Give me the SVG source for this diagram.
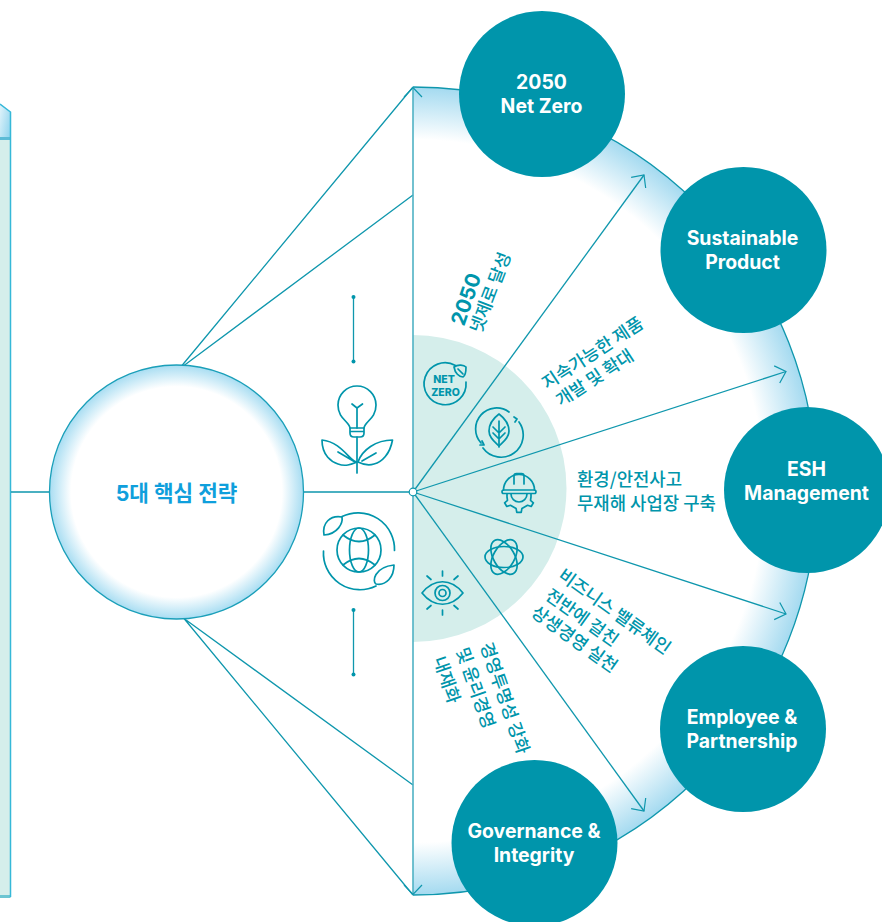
<svg xmlns="http://www.w3.org/2000/svg" width="882" height="922" viewBox="0 0 882 922">
<style>
.c{stroke:#0F97AD;stroke-width:1.3;fill:none}
.i{stroke:#0095AB;stroke-width:1.7;fill:none;stroke-linecap:round;stroke-linejoin:round}
.n{fill:#0095AB}
.t{font-family:Inter,"Noto Sans CJK KR",sans-serif;font-weight:700;font-size:19.400px;fill:#fff;text-anchor:middle}
.k{font-family:"Noto Sans CJK KR",sans-serif;font-weight:500;font-size:17.500px;fill:#0095AB}
</style>
<defs>
<radialGradient id="g1" gradientUnits="userSpaceOnUse" cx="413" cy="491" r="404"><stop offset="0.87" stop-color="#fff"/><stop offset="1" stop-color="#A4DAF0"/></radialGradient>
<radialGradient id="g2" gradientUnits="userSpaceOnUse" cx="176.500" cy="492" r="127"><stop offset="0.83" stop-color="#fff"/><stop offset="1" stop-color="#A8DDF2"/></radialGradient>
<linearGradient id="g3" x1="0" y1="0.300" x2="1" y2="0.900"><stop offset="0" stop-color="#D8F0F9"/><stop offset="1" stop-color="#8FD4EE"/></linearGradient>
<marker id="a" markerUnits="userSpaceOnUse" markerWidth="24" markerHeight="24" refX="12" refY="12" orient="auto" overflow="visible"><path d="M2.500,3 L12,12 L2.500,21" fill="none" stroke="#0F97AD" stroke-width="1.200"/></marker>
</defs>
<rect width="882" height="922" fill="#fff"/>
<g id="panel">
<rect x="0" y="139" width="10.500" height="758" fill="#D5EEEB"/>
<path d="M0,104 L10.500,112 V138 H0 Z" fill="url(#g3)"/>
<rect x="0" y="137" width="10.500" height="3" fill="#5CBBD6"/>
<rect x="0" y="895" width="10.500" height="3" fill="#6CC5D2"/>
<path d="M0,104 L10.500,112 V897" fill="none" stroke="#35B8D8" stroke-width="1.500"/>
</g>
<g id="fan">
<path d="M413,87 A404,404 0 0 1 413,895 Z" fill="url(#g1)"/>
<path d="M413,87 A404,404 0 0 1 413,895" fill="none" stroke="#0F97AD" stroke-width="1.300"/>
<path d="M413,335 A153.500,153.500 0 0 1 413,642 Z" fill="#D5EEEB"/>
</g>
<g id="connectors">
<path class="c" d="M11,492 H50 M303,492 H413"/>
<path class="c" d="M182,365.500 L413,87 M184,365.500 L413,195 M184,618.500 L413,895 M184,618.500 L413,785"/>
<path d="M413,492 V87.500" fill="none" stroke="#4FB2C4" stroke-width="1.600" marker-end="url(#a)"/>
<path d="M413,492 V894.500" fill="none" stroke="#4FB2C4" stroke-width="1.600" marker-end="url(#a)"/>
<path class="c" marker-end="url(#a)" d="M413,492 L644,175"/>
<path class="c" marker-end="url(#a)" d="M413,492 L786,371.500"/>
<path class="c" marker-end="url(#a)" d="M413,492 L786,614"/>
<path class="c" marker-end="url(#a)" d="M413,492 L644,811"/>
<circle cx="413" cy="492" r="3.800" fill="#fff" stroke="#0F97AD" stroke-width="1.200"/>
<path class="c" d="M353.500,297 V361.500 M353.500,610 V674.500"/>
<circle class="n" cx="353.500" cy="297" r="2"/><circle class="n" cx="353.500" cy="361.500" r="2"/>
<circle class="n" cx="353.500" cy="610" r="2"/><circle class="n" cx="353.500" cy="674.500" r="2"/>
</g>
<g id="hub">
<circle cx="176.500" cy="492" r="127" fill="url(#g2)" stroke="#1A9FB9" stroke-width="1.300"/>
<text x="176.500" y="501" font-family="Inter,'Noto Sans CJK KR',sans-serif" font-weight="700" font-size="21.300" fill="#0F9FDC" text-anchor="middle">5대 핵심 전략</text>
</g>
<g id="icon-plant" class="i">
<path d="M350,428 C349,421 338,419 338,405 A19,19 0 1 1 376,405 C376,419 365,421 364,428"/>
<path d="M350,428 H364 V433 Q364,437 360,437 H354 Q350,437 350,433 Z M350,431.500 H364"/>
<path d="M357,428 V408 M352,404 L357,408 L362.500,404 M357,437 V473"/>
<path d="M357,462 C350,462 342,442 322,440 C322,456 332,462 338,464 C346,467 352,464 357,462 Z M338,452 L355,462"/>
<path d="M358,462 C362,450 376,440 392.500,440 C390,454 382,462 374,464 C368,466 362,464 358,462 Z M362,461 L376,453"/>
</g>
<g id="icon-globe" class="i">
<circle cx="359" cy="550" r="22"/>
<ellipse cx="359" cy="550" rx="9.500" ry="22"/>
<path d="M343,535 Q359,548 375,535 M343,565 Q359,552 375,565"/>
<path d="M342,516.500 A36.500,36.500 0 0 1 394.500,550.500 M323.500,551 A36.500,36.500 0 0 0 376,586"/>
<path d="M324,535 C322,523 330,515 342,517 C343,523 338,534 324,535 Z"/>
<path d="M394,565 C394,577 386,586 376,584 C372,582 374,567 394,565 Z"/>
</g>
<g id="icon-netzero" class="i">
<path d="M455.500,365.500 A21,21 0 1 0 466,382"/>
<path d="M454,367 C458,364 464,365 466,367 C466,373 465,376 463,377 C459,377 455,373 454,367 Z M458,369 L463,374"/>
<text x="444" y="383" font-family="Inter,sans-serif" font-weight="800" font-size="10.500" fill="#0095AB" stroke="none" text-anchor="middle">NET</text>
<text x="445.500" y="395.500" font-family="Inter,sans-serif" font-weight="800" font-size="10.500" fill="#0095AB" stroke="none" text-anchor="middle">ZERO</text>
</g>
<g id="icon-leaf" class="i">
<path d="M509,412 A21,21 0 0 0 481,443 M483,448 A21,21 0 0 0 519,422"/>
<path d="M514,417 L517,419 L515,422 M482,441 L484,445 L480,445"/>
<path d="M499,414 C491,420 489,426 489,431 C489,438 495,442 499,446 C503,442 509,438 509,431 C509,426 507,420 499,414 Z"/>
<path d="M499,421 V447 M493,427 L499,433 L505,427 M493,433 L499,439 L505,433"/>
</g>
<g id="icon-helmet" class="i">
<path d="M503.500,490 A15.500,15.500 0 0 1 534.500,490"/>
<path d="M514,484 V476 Q514,473.500 516.500,473.500 H521.500 Q524,473.500 524,476 V484"/>
<rect x="502" y="490" width="34" height="3.500" rx="1.700"/>
<path d="M531,494 V497 L530.500,500.300 L533.400,502.800 L531.200,506.500 L527.600,505.300 L521.900,508.600 L521.200,512.300 H516.800 L516.100,508.600 L510.400,505.300 L506.800,506.500 L504.600,502.800 L507.500,500.300 L507,497 V494"/>
<path d="M511,494 A8,8 0 0 0 527,494"/>
</g>
<g id="icon-atom" class="i">
<ellipse cx="504" cy="557" rx="19" ry="10.500"/>
<ellipse cx="504" cy="557" rx="19" ry="10.500" transform="rotate(60 504 557)"/>
<ellipse cx="504" cy="557" rx="19" ry="10.500" transform="rotate(120 504 557)"/>
</g>
<g id="icon-eye" class="i">
<path d="M422,593 C434,578 451,578 463,593 C451,608 434,608 422,593 Z"/>
<circle cx="442.500" cy="593" r="7.500"/><circle cx="442.500" cy="593" r="3.500"/>
<path d="M442.500,571 V576 M442.500,610 V615 M427,576 L431,579.500 M458,576 L454,579.500 M427,609 L431,605.500 M458,609 L454,605.500"/>
</g>
<g id="labels">
<text class="k" transform="translate(464,327) rotate(-71)" style="font-size:20.500px;font-family:Inter,sans-serif;font-weight:700">2050</text>
<text class="k" transform="translate(481,334) rotate(-69)">넷제로 달성</text>
<text class="k" transform="translate(547,390) rotate(-33)">지속가능한 제품</text>
<text class="k" transform="translate(561,407) rotate(-33)">개발 및 확대</text>
<text class="k" x="577" y="486" style="font-size:17.800px">환경/안전사고</text>
<text class="k" x="577" y="510" style="font-size:17.800px">무재해 사업장 구축</text>
<text class="k" transform="translate(557,578) rotate(35.500)">비즈니스 밸류체인</text>
<text class="k" transform="translate(544,598) rotate(35.500)">전반에 걸친</text>
<text class="k" transform="translate(530,615) rotate(35.500)">상생경영 실천</text>
<text class="k" transform="translate(480,645) rotate(71)">경영투명성 강화</text>
<text class="k" transform="translate(456,650) rotate(71)">및 윤리경영</text>
<text class="k" transform="translate(433,659) rotate(71)">내재화</text>
</g>
<g id="node-netzero"><circle class="n" cx="542" cy="94" r="83"/><text class="t" x="541.500" y="89">2050</text><text class="t" x="541.500" y="113">Net Zero</text></g>
<g id="node-product"><circle class="n" cx="743.500" cy="250" r="83"/><text class="t" x="742.500" y="245">Sustainable</text><text class="t" x="742.500" y="269">Product</text></g>
<g id="node-esh"><circle class="n" cx="807" cy="490" r="83"/><text class="t" x="806.500" y="476">ESH</text><text class="t" x="806.500" y="500">Management</text></g>
<g id="node-employee"><circle class="n" cx="743" cy="729" r="83"/><text class="t" x="742" y="724">Employee &amp;</text><text class="t" x="742" y="748">Partnership</text></g>
<g id="node-governance"><circle class="n" cx="534.500" cy="843" r="83"/><text class="t" x="534" y="838">Governance &amp;</text><text class="t" x="534" y="862">Integrity</text></g>
</svg>
